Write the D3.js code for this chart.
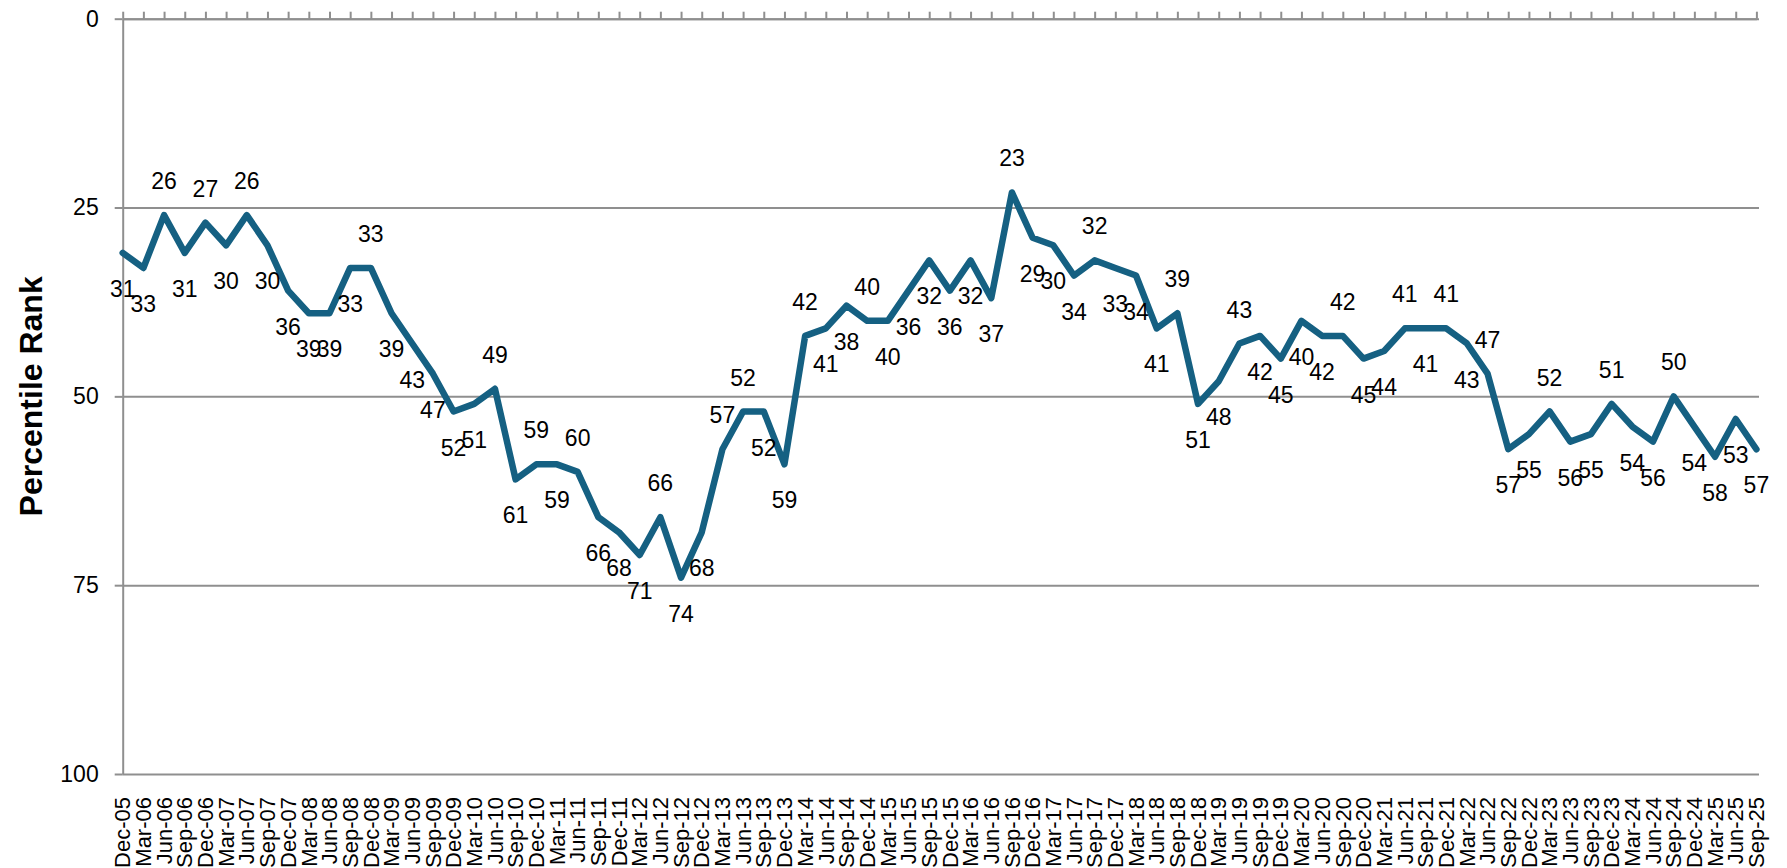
<!DOCTYPE html>
<html>
<head>
<meta charset="utf-8">
<script src="https://cdn.jsdelivr.net/npm/d3@7"></script>
<style>
  body { margin: 0; background: #fff; }
  svg { display: block; }
  text { font-family: "Liberation Sans", Arial, sans-serif; }
</style>
</head>
<body>
<svg id="chart" width="1787" height="868"></svg>
<script>
// Quarter-end labels for the category axis
const quarters = [
  "Dec-05",
  "Mar-06","Jun-06","Sep-06","Dec-06",
  "Mar-07","Jun-07","Sep-07","Dec-07",
  "Mar-08","Jun-08","Sep-08","Dec-08",
  "Mar-09","Jun-09","Sep-09","Dec-09",
  "Mar-10","Jun-10","Sep-10","Dec-10",
  "Mar-11","Jun-11","Sep-11","Dec-11",
  "Mar-12","Jun-12","Sep-12","Dec-12",
  "Mar-13","Jun-13","Sep-13","Dec-13",
  "Mar-14","Jun-14","Sep-14","Dec-14",
  "Mar-15","Jun-15","Sep-15","Dec-15",
  "Mar-16","Jun-16","Sep-16","Dec-16",
  "Mar-17","Jun-17","Sep-17","Dec-17",
  "Mar-18","Jun-18","Sep-18","Dec-18",
  "Mar-19","Jun-19","Sep-19","Dec-19",
  "Mar-20","Jun-20","Sep-20","Dec-20",
  "Mar-21","Jun-21","Sep-21","Dec-21",
  "Mar-22","Jun-22","Sep-22","Dec-22",
  "Mar-23","Jun-23","Sep-23","Dec-23",
  "Mar-24","Jun-24","Sep-24","Dec-24",
  "Mar-25","Jun-25","Sep-25"
];

// Percentile rank per quarter (lower is better, axis is reversed)
const rank = [
  31,
  33, 26, 31, 27,
  30, 26, 30, 36,
  39, 39, 33, 33,
  39, 43, 47, 52,
  51, 49, 61, 59,
  59, 60, 66, 68,
  71, 66, 74, 68,
  57, 52, 52, 59,
  42, 41, 38, 40,
  40, 36, 32, 36,
  32, 37, 23, 29,
  30, 34, 32, 33,
  34, 41, 39, 51,
  48, 43, 42, 45,
  40, 42, 42, 45,
  44, 41, 41, 41,
  43, 47, 57, 55,
  52, 56, 55, 51,
  54, 56, 50, 54,
  58, 53, 57
];

// Value axis ticks
const yTicks = [0, 25, 50, 75, 100];

// Quarters whose value label sits above the line (all others sit below)
const labelsAbove = [2, 4, 6, 12, 18, 20, 22, 26, 29, 30, 33, 36, 43, 47, 51, 54, 59, 62, 64, 66, 69, 72, 75];

const svg = d3.select("#chart");

const plot = { left: 122.7, right: 1756.4, top: 18.7, bottom: 774 };
const gridColor = "#8f8f8f";
const lineColor = "#156082";

const x = d3.scalePoint().domain(quarters).range([plot.left, plot.right]);
const y = d3.scaleLinear().domain([0, 100]).range([plot.top, plot.bottom]);

// Horizontal gridlines
svg.append("g")
  .attr("transform", `translate(${plot.left},0)`)
  .call(d3.axisLeft(y).tickValues(yTicks)
    .tickSizeInner(-(plot.right + 2.6 - plot.left)).tickSizeOuter(0).tickFormat(""))
  .call(g => g.select(".domain").remove())
  .call(g => g.selectAll("line").attr("stroke", gridColor).attr("stroke-width", 2));

// Value axis with labels
svg.append("g")
  .attr("transform", `translate(${plot.left},0)`)
  .call(d3.axisLeft(y).tickValues(yTicks).tickSize(8).tickSizeOuter(0).tickPadding(16))
  .call(g => {
    g.select(".domain").attr("stroke", gridColor).attr("stroke-width", 2);
    g.selectAll(".tick line").attr("stroke", gridColor).attr("stroke-width", 2);
    g.selectAll(".tick text")
      .attr("font-size", 23)
      .attr("font-family", '"Liberation Sans", Arial, sans-serif')
      .attr("fill", "#000");
  });

// Category axis line along the 0 rank, ticks pointing up
svg.append("g")
  .attr("transform", `translate(0,${y(0)})`)
  .call(d3.axisTop(x).tickSize(7).tickSizeOuter(0).tickFormat(""))
  .call(g => {
    g.select(".domain").attr("stroke", gridColor).attr("stroke-width", 2);
    g.selectAll(".tick line").attr("stroke", gridColor).attr("stroke-width", 2);
  });

// Category labels along the bottom, rotated
svg.append("g")
  .selectAll("text")
  .data(quarters)
  .join("text")
  .attr("transform", d => `translate(${x(d)},797) rotate(-90)`)
  .attr("text-anchor", "end")
  .attr("dy", "0.35em")
  .attr("font-size", 22)
  .attr("fill", "#000")
  .text(d => d);

// Rank line
const line = d3.line()
  .x((d, i) => x(quarters[i]))
  .y(d => y(d));

svg.append("path")
  .datum(rank)
  .attr("d", line)
  .attr("fill", "none")
  .attr("stroke", lineColor)
  .attr("stroke-width", 6.5)
  .attr("stroke-linejoin", "round")
  .attr("stroke-linecap", "round");

// Value labels
const above = new Set(labelsAbove);
svg.append("g")
  .selectAll("text")
  .data(rank)
  .join("text")
  .attr("x", (d, i) => x(quarters[i]))
  .attr("y", (d, i) => y(d) + (above.has(i) ? -34 : 36))
  .attr("dy", "0.35em")
  .attr("text-anchor", "middle")
  .attr("font-size", 23)
  .attr("fill", "#000")
  .text(d => d);

// Axis title
svg.append("text")
  .attr("transform", `translate(41.5,${(plot.top + plot.bottom) / 2}) rotate(-90)`)
  .attr("text-anchor", "middle")
  .attr("font-weight", "bold")
  .attr("font-size", 32)
  .attr("fill", "#000")
  .text("Percentile Rank");
</script>
</body>
</html>
